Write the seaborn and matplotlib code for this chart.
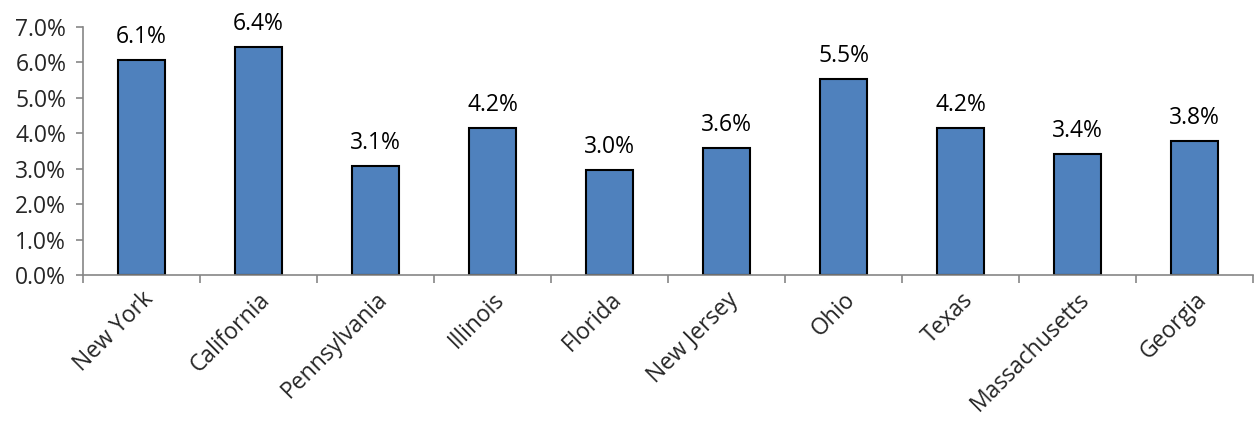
import matplotlib
matplotlib.use("Agg")
import matplotlib.pyplot as plt
import seaborn as sns
import pandas as pd
import numpy as np

states = ["New York", "California", "Pennsylvania", "Illinois", "Florida",
          "New Jersey", "Ohio", "Texas", "Massachusetts", "Georgia"]
shares = [6.07, 6.44, 3.08, 4.15, 2.97, 3.58, 5.53, 4.15, 3.42, 3.79]
y_ticks = [0, 1, 2, 3, 4, 5, 6, 7]

sns.set_style("white")
plt.rcParams["font.family"] = ["Open Sans", "DejaVu Sans"]
FS = 16.5

df = pd.DataFrame({"state": states, "share": shares})

fig = plt.figure(figsize=(12.57, 4.22), dpi=100)
ax = fig.add_axes([0.066, 0.348, 0.931, 0.588])

sns.barplot(data=df, x="state", y="share", color="#4F81BD", saturation=1,
            width=0.4, edgecolor="black", linewidth=1.5, ax=ax)

for i, v in enumerate(shares):
    ax.annotate(f"{v:.1f}%", (i, v), xytext=(0, 8), textcoords="offset points",
                ha="center", va="bottom", fontsize=FS, color="black")

ax.set_ylim(0, 7)
ax.set_xlim(-0.5, len(states) - 0.5)
ax.set_yticks(y_ticks)
ax.set_yticklabels([f"{t:.1f}%" for t in y_ticks], fontsize=FS)
ax.set_xticks(np.arange(len(states)))
ax.set_xticklabels(states, rotation=45, ha="right", rotation_mode="anchor",
                   fontsize=FS)
ax.tick_params(axis="x", length=0, pad=9)
ax.tick_params(axis="y", length=5, color="#868686", width=1.2, direction="out",
               left=True, pad=7)
# category separators below the baseline
ax.set_xticks(np.arange(len(states) + 1) - 0.5, minor=True)
ax.tick_params(axis="x", which="minor", length=6, color="#868686", width=1.2,
               direction="out", bottom=True)
ax.set_xlabel("")
ax.set_ylabel("")

for side in ["top", "right"]:
    ax.spines[side].set_visible(False)
for side in ["left", "bottom"]:
    ax.spines[side].set_color("#868686")
    ax.spines[side].set_linewidth(1.2)

fig.savefig("out.png", dpi=100)
